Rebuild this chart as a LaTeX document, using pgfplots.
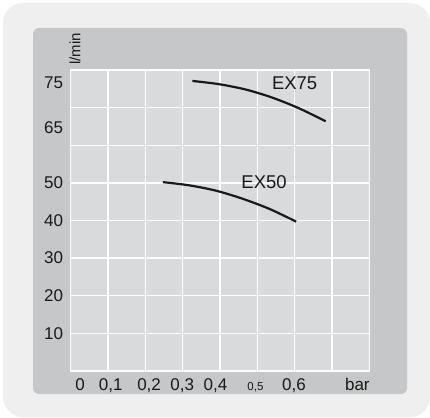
\documentclass[border=0pt]{standalone}
\usepackage{fontspec}
\setmainfont{Liberation Sans}
\usepackage{pgfplots}
\pgfplotsset{compat=1.18}
\definecolor{outerbg}{RGB}{238,239,238}
\definecolor{framebg}{RGB}{198,199,201}
\definecolor{plotbg}{RGB}{217,218,220}
\definecolor{txt}{RGB}{25,25,25}
\begin{document}
\begin{tikzpicture}
\useasboundingbox (0,0) rectangle (430pt,-417pt);
\clip (0,0) rectangle (430pt,-417pt);
\fill[white] (0,0) rectangle (430pt,-417pt);
\fill[outerbg, rounded corners=20pt] (3pt,-3pt) rectangle (430pt,-417pt);
\fill[framebg, rounded corners=6pt] (33pt,-28pt) rectangle (407pt,-394pt);
\begin{axis}[
  at={(70.7pt,-371pt)}, anchor=south west,
  scale only axis, width=298.6pt, height=301pt,
  xmin=0, xmax=0.8, ymin=0, ymax=80,
  axis background/.style={fill=plotbg},
  axis line style={white, line width=1.4pt},
  major tick length=0pt, minor tick length=0pt,
  xtick={0.025,0.107,0.21,0.299,0.388,0.495,0.598,0.768},
  xticklabels={0,{0,1},{0,2},{0,3},{0,4},{\fontsize{11.5pt}{12pt}\selectfont 0,5},{0,6},bar},
  ytick={10,20,30,40,50,64.6,76.5},
  yticklabels={10,20,30,40,50,65,75},
  minor xtick={0.1,0.2,...,0.71},
  minor ytick={10,20,...,71},
  xmajorgrids=false, ymajorgrids=false,
  xminorgrids=true, yminorgrids=true,
  minor grid style={white, line width=1.4pt},
  tick label style={font=\fontsize{17pt}{19pt}\selectfont, text=txt, inner sep=0pt},
  xticklabel style={anchor=base, yshift=-19pt},
  xticklabel shift=0pt,
  yticklabel style={anchor=east, xshift=-7.5pt},
  yticklabel shift=0pt,
  clip=false,
]
\addplot[txt, line width=2.2pt, smooth] coordinates {
 (0.326,77.10) (0.397,76.24) (0.469,74.81) (0.540,72.67) (0.612,69.81) (0.683,66.38)};
\addplot[txt, line width=2.2pt, smooth] coordinates {
 (0.247,50.20) (0.318,49.34) (0.390,47.91) (0.461,45.77) (0.533,43.06) (0.604,39.70)};
\node[font=\fontsize{18.5pt}{20pt}\selectfont, text=txt] at (axis cs:0.600,76.4) {EX75};
\node[font=\fontsize{18.5pt}{20pt}\selectfont, text=txt] at (axis cs:0.518,50.3) {EX50};
\end{axis}
\node[rotate=90, font=\fontsize{15pt}{16pt}\selectfont, text=txt] at (75pt,-49pt) {l/min};
\end{tikzpicture}
\end{document}
